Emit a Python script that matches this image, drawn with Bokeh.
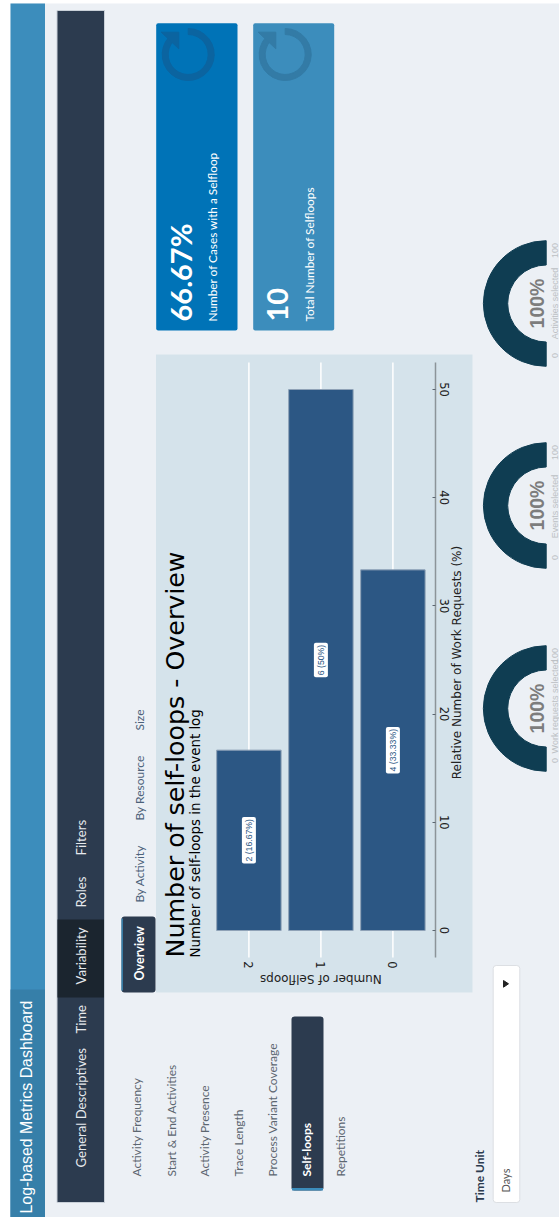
from math import pi

from bokeh.core.properties import value
from bokeh.embed import file_html
from bokeh.models import ColumnDataSource, FixedTicker, LinearAxis, Range1d
from bokeh.plotting import figure
from bokeh.resources import INLINE

# Self-loop distribution
selfloop_counts = [2, 1, 0]
work_requests = [2, 6, 4]
work_request_share = [16.67, 50, 33.33]
share_ticks = [0, 10, 20, 30, 40, 50]

# Value boxes
cases_with_selfloop = "66.67%"
total_selfloops = "10"

# Selection gauges
gauge_names = ["Work requests selected", "Events selected", "Activities selected"]
gauge_values = [100, 100, 100]
gauge_max = 100

# Navigation
top_menu = ["General Descriptives", "Time", "Variability", "Roles", "Filters"]
tabs = ["Overview", "By Activity", "By Resource", "Size"]
side_menu = ["Activity Frequency", "Start & End Activities", "Activity Presence", "Trace Length",
             "Process Variant Coverage", "Self-loops", "Repetitions"]

W, H = 559, 1217
UP = pi / 2

p = figure(width=W, height=H, output_backend="svg", toolbar_location=None,
           x_range=Range1d(0, W), y_range=Range1d(H, 0),
           x_axis_type=None, y_axis_type=None, min_border=0, outline_line_color=None,
           background_fill_color="white", border_fill_color="white")


def box(x0, x1, y0, y1, color, radius=0, line=None):
    p.quad(left=[x0], right=[x1], top=[y0], bottom=[y1], fill_color=color, line_color=line,
           border_radius=radius, level="image")


def label(x, y, text, size, color, font="Lato", style="normal", align="left", angle=UP):
    p.text(x=[x], y=[y], text=[text], angle=angle, text_font=value(font), text_font_size=f"{size}px",
           text_font_style=style, text_color=color, text_align=align, text_baseline="middle")


# Page shell
box(10, W, 3, H, "#ecf0f5")
box(10, 44.5, 3, H, "#3c8dbc")
box(10, 44.5, 989, H, "#367fa9")
label(25.5, 1213, "Log-based Metrics Dashboard", 15.9, "white", font="Liberation Sans")

# Top navigation bar
box(56.5, 104, 10, 1202, "#2c3b4f", line="#c9d0d8")
box(57, 103.5, 919, 997, "#1b252f")
nav_y = [1167, 1033, 984, 907, 855]
for name, y in zip(top_menu, nav_y):
    label(80, y, name, 13.1, "#e6e9ed")

# Tabs
box(121, 155, 916, 992, "#2c3b4f", radius=3)
box(121, 122.3, 918, 990, "#3c8dbc")
label(139, 980, tabs[0], 12.5, "white", style="bold")
for name, y in zip(tabs[1:], [902, 820, 730]):
    label(139, y, name, 12, "#4b6179")

# Side menu
side_x = [136, 170.5, 204.2, 237.5, 271.5, 306, 340.2]
box(291, 323, 1016, 1190, "#2c3b4f", radius=3)
box(291.5, 322.5, 1187.5, 1190, "#3c8dbc")
for name, x in zip(side_menu, side_x):
    active = name == "Self-loops"
    label(x, 1176, name, 12, "white" if active else "#5c6670", style="bold" if active else "normal")

# Time unit selector
label(479, 1202, "Time Unit", 12, "#2c3b4f", style="bold")
box(492.7, 519.3, 965, 1202, "white", radius=3, line="#dcdfe3")
label(505, 1192, "Days", 11, "#555555")
p.patch(x=[503, 508, 503], y=[980, 983.3, 986.7], color="#222222")

# Value boxes with their reload icons
kpi = [(155.7, 237, "#0073b7", "#0b64a0", cases_with_selfloop, "Number of Cases with a Selfloop"),
       (252.7, 333.7, "#3c8dbc", "#337ba6", total_selfloops, "Total Number of Selfloops")]
for x0, x1, fill, icon, number, caption in kpi:
    box(x0, x1, 22.7, 330, fill, radius=2)
    cx = x0 + 32
    p.annular_wedge(x=[cx], y=[54], inner_radius=20, outer_radius=26, start_angle=2.4, end_angle=UP,
                    direction="anticlock", color=icon)
    p.patch(x=[x0 + 5, x0 + 22.6, x0 + 22.6], y=[31.7, 31.7, 48.3], color=icon)
    label(x0 + 24.5, 321, number, 29, "white", style="bold")
    label(x0 + 56, 321, caption, 11.8, "white")

# Chart panel
box(155.5, 472, 354, 992, "#d5e3eb")
label(175, 957, "Number of self-loops - Overview", 25.3, "black", font="DejaVu Sans")
label(195, 957, "Number of self-loops in the event log", 13.4, "black", font="DejaVu Sans")

# Data scales laid over the page: one category every 72 px, ten percent every 108.2 px
cat_px, cat_zero_px = 72.0, 392.4
pct_px, pct_zero_px = 10.82, 930.0
p.extra_x_ranges["cats"] = Range1d(cat_zero_px / cat_px, (cat_zero_px - W) / cat_px)
p.extra_y_ranges["pct"] = Range1d((pct_zero_px - H) / pct_px, pct_zero_px / pct_px)
pct_bounds = (-2.5, 52.5)

# White rules running along each category
p.segment(x0=selfloop_counts, x1=selfloop_counts, y0=pct_bounds[0], y1=pct_bounds[1],
          x_range_name="cats", y_range_name="pct", line_color="white", line_width=1.5, level="underlay")

bars = ColumnDataSource(dict(
    count=selfloop_counts,
    share=work_request_share,
    middle=[s / 2 for s in work_request_share],
    text=[f"{n} ({s:g}%)" for n, s in zip(work_requests, work_request_share)],
))
p.vbar(x="count", top="share", bottom=0, width=0.895, source=bars, x_range_name="cats", y_range_name="pct",
       fill_color="#2c5784", line_color="#8fa2b7", line_width=1)
p.text(x="count", y="middle", text="text", source=bars, x_range_name="cats", y_range_name="pct", angle=UP,
       text_align="center", text_baseline="middle", text_font=value("Liberation Sans"), text_font_size="8.7px",
       text_color="#2c5784", background_fill_color="white", border_radius=2, padding=2)

value_axis = LinearAxis(x_range_name="cats", y_range_name="pct", ticker=FixedTicker(ticks=share_ticks),
                        fixed_location=(cat_zero_px - 435) / cat_px, bounds=pct_bounds,
                        major_label_orientation="vertical", major_tick_in=3, major_tick_out=0,
                        minor_tick_line_color=None, axis_line_color="#8c9499", axis_line_width=1.5,
                        major_tick_line_color="#5c6670", major_label_standoff=4,
                        major_label_text_font="DejaVu Sans", major_label_text_font_size="11.5px",
                        major_label_text_color="#222222")
p.add_layout(value_axis, "right")

count_axis = LinearAxis(x_range_name="cats", y_range_name="pct", ticker=FixedTicker(ticks=selfloop_counts),
                        fixed_location=-2.0, major_label_orientation="vertical",
                        major_tick_line_color=None, minor_tick_line_color=None, axis_line_color=None,
                        major_label_standoff=3, major_label_text_font="DejaVu Sans",
                        major_label_text_font_size="11.5px", major_label_text_color="#222222")
p.add_layout(count_axis, "below")

label(456, 662, "Relative Number of Work Requests (%)", 12, "#222222", font="DejaVu Sans", align="center")
label(320.4, 978, "Number of Selfloops", 12, "#222222", font="DejaVu Sans", align="center", angle=pi)

# Selection gauges: each half ring sweeps from its zero end by the selected share
gauge_y = [708, 505, 303]
caption_mid = [706, 506, 303]
for name, v, cy, mid in zip(gauge_names, gauge_values, gauge_y, caption_mid):
    p.annular_wedge(x=[545.7], y=[cy], inner_radius=38.5, outer_radius=62.8,
                    start_angle=pi * (1.5 - v / gauge_max), end_angle=1.5 * pi,
                    direction="anticlock", color="#0f3d52")
    label(536.5, cy, f"{v}%", 19.5, "#7d7d7d", font="Liberation Sans", style="bold", align="center")
    label(554.5, mid, name, 9, "#bcc0c4", font="Liberation Sans", align="center")
    label(554.5, cy + 52, "0", 9, "#bcc0c4", font="Liberation Sans", align="center")
    label(554.5, cy - 53, str(gauge_max), 9, "#bcc0c4", font="Liberation Sans", align="center")

open("out.html", "w").write(file_html(p, INLINE))
